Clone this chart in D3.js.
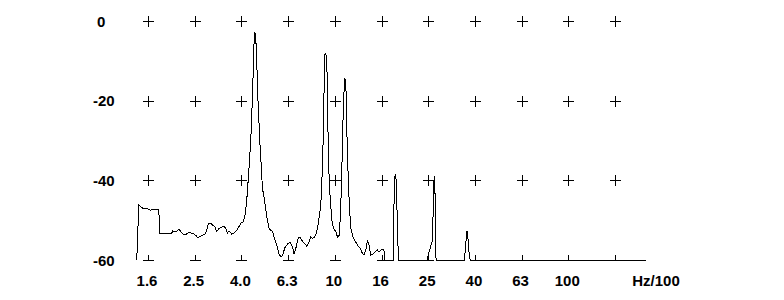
<!DOCTYPE html>
<html>
<head>
<meta charset="utf-8">
<script src="https://cdn.jsdelivr.net/npm/d3@7"></script>
<style>
  html, body { margin: 0; padding: 0; background: #ffffff; }
  svg { display: block; }
  text { font-family: "Liberation Sans", Arial, sans-serif; font-weight: bold; font-size: 15px; fill: #000; }
</style>
</head>
<body>
<svg id="chart" width="784" height="300"></svg>
<script>
// Frequency in Hz/100 (log axis), level in dB
const freqHz100 = [
  1.419, 1.447, 1.505, 1.582, 1.629, 1.678, 1.746, 1.763, 1.780, 2.004,
  2.018, 2.085, 2.153, 2.190, 2.241, 2.301, 2.363, 2.417, 2.458, 2.539,
  2.582, 2.623, 2.694, 2.756, 2.802, 2.878, 2.943, 3.011, 3.072, 3.114,
  3.195, 3.281, 3.357, 3.413, 3.471, 3.526, 3.621, 3.704, 3.831, 3.957,
  4.048, 4.129, 4.186, 4.228, 4.295, 4.368, 4.441, 4.486, 4.513, 4.544,
  4.589, 4.634, 4.694, 4.787, 4.854, 4.903, 4.941, 5.115, 5.232, 5.410,
  5.496, 5.644, 5.774, 5.888, 6.006, 6.108, 6.272, 6.436, 6.589, 6.695,
  6.808, 6.962, 7.102, 7.201, 7.387, 7.587, 7.760, 7.892, 8.026, 8.153,
  8.291, 8.456, 8.649, 8.753, 8.858, 8.946, 8.999, 9.062, 9.152, 9.241,
  9.305, 9.398, 9.549, 9.708, 9.873, 10.10, 10.27, 10.43, 10.54, 10.68,
  10.79, 10.90, 11.04, 11.15, 11.26, 11.40, 11.54, 11.71, 12.00, 12.30,
  12.51, 12.84, 13.14, 13.35, 13.58, 13.80, 14.02, 14.26, 14.64, 14.98,
  15.23, 15.47, 15.74, 16.13, 16.29, 16.37, 17.80, 17.84, 17.95, 18.07,
  18.20, 18.30, 18.43, 18.56, 18.74, 24.95, 25.10, 26.20, 26.47, 26.63,
  26.81, 26.89, 27.00, 27.15, 35.80, 36.05, 36.51, 36.76, 37.02, 37.24,
  37.61, 37.99, 214.7
];
const levelDb = [
  -60.0, -46.2, -47.0, -47.2, -47.5, -47.2, -47.2, -47.2, -53.3, -53.3,
  -52.7, -52.9, -52.3, -52.9, -53.5, -53.6, -53.1, -53.2, -53.3, -53.8,
  -54.3, -54.2, -53.9, -53.6, -53.3, -50.8, -50.8, -51.3, -51.7, -52.9,
  -52.1, -51.7, -51.5, -52.1, -53.2, -52.7, -53.5, -53.2, -52.3, -50.8,
  -50.4, -48.7, -45.8, -42.5, -36.6, -29.9, -19.0, -9.8, -4.8, -2.7,
  -4.3, -10.6, -20.7, -31.6, -37.4, -42.5, -43.0, -49.2, -52.1, -52.9,
  -54.2, -56.3, -58.5, -59.3, -58.5, -56.9, -56.0, -55.6, -56.7, -58.5,
  -57.1, -54.6, -54.2, -55.0, -55.7, -56.5, -55.5, -54.2, -54.6, -54.3,
  -53.8, -51.7, -47.5, -44.2, -35.8, -26.6, -16.5, -8.5, -8.1, -9.8,
  -19.0, -35.8, -44.1, -50.0, -52.1, -52.9, -54.2, -53.8, -50.0, -41.6,
  -29.9, -19.8, -14.4, -15.3, -27.4, -38.3, -46.2, -52.0, -54.5, -55.5,
  -56.3, -57.1, -58.4, -58.8, -57.4, -55.0, -56.3, -58.8, -58.4, -57.8,
  -57.5, -58.0, -57.5, -57.4, -57.8, -60.0, -60.0, -55.0, -44.1, -39.1,
  -38.7, -39.9, -45.0, -52.5, -60.0, -60.0, -58.8, -55.0, -44.1, -39.1,
  -39.1, -45.0, -55.9, -60.0, -60.0, -58.8, -55.0, -52.9, -52.9, -55.0,
  -58.4, -60.0, -60.0
];
// Axis ticks (R5 series) and their labels
const xTickValues = [1.585, 2.512, 3.981, 6.310, 10, 15.85, 25.12, 39.81, 63.10, 100, 158.5];
const xTickLabels = ["1.6", "2.5", "4.0", "6.3", "10", "16", "25", "40", "63", "100", ""];
const xUnitLabel = "Hz/100";
const yTickValues = [0, -20, -40, -60];
const yTickLabels = ["0", "-20", "-40", "-60"];

const svg = d3.select("#chart");
const x = d3.scaleLog().domain([1.585, 158.5]).range([148, 615]);
const y = d3.scaleLinear().domain([0, -60]).range([21, 260]);
const half = 5.5;

// grid crosses
const g = svg.append("g").attr("shape-rendering", "crispEdges")
  .attr("stroke", "#000").attr("stroke-width", 1);
yTickValues.forEach(v => {
  xTickValues.forEach(f => {
    const cx = Math.round(x(f)) + 0.5, cy = Math.round(y(v)) + 0.5;
    g.append("line").attr("x1", cx - half).attr("x2", cx + half).attr("y1", cy).attr("y2", cy);
    const bottom = v === -60 ? cy : cy + half;
    g.append("line").attr("x1", cx).attr("x2", cx).attr("y1", cy - half).attr("y2", bottom);
  });
});

// y labels
svg.append("g").selectAll("text").data(yTickValues).join("text")
  .attr("x", (d, i) => yTickLabels[i].startsWith("-") ? 93 : 97)
  .attr("y", d => y(d))
  .attr("dominant-baseline", "central")
  .text((d, i) => yTickLabels[i]);

// x labels
svg.append("g").selectAll("text").data(xTickValues).join("text")
  .attr("x", d => x(d) - 1)
  .attr("y", 286)
  .attr("text-anchor", "middle")
  .text((d, i) => xTickLabels[i]);
svg.append("text").attr("x", x.range()[1] + 41).attr("y", 286)
  .attr("text-anchor", "middle").text(xUnitLabel);

// spectrum curve
const pts = freqHz100.map((f, i) => [f, levelDb[i]]);
const line = d3.line().x(d => x(d[0])).y(d => y(Math.max(-60, d[1])));
svg.append("path").datum(pts)
  .attr("d", line)
  .attr("fill", "none")
  .attr("stroke", "#000")
  .attr("stroke-width", 1)
  .attr("shape-rendering", "crispEdges");
</script>
</body>
</html>
